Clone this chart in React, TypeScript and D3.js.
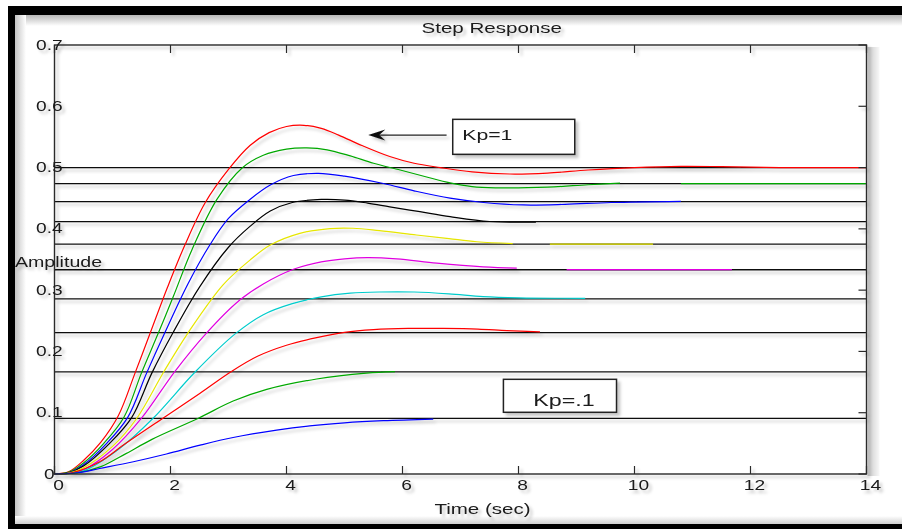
import React from "react";
import * as d3 from "d3";

// ---------- data ----------
const kpValues = [1, 0.9, 0.8, 0.7, 0.6, 0.5, 0.4, 0.3, 0.2, 0.1];
const seriesColors = ["#ff0000", "#00a800", "#0000ff", "#000000", "#e6e600", "#e000e0", "#00cccc", "#ff0000", "#00a800", "#0000ff"];
const steadyLevels = [0.5, 0.4737, 0.4444, 0.4118, 0.375, 0.3333, 0.2857, 0.2308, 0.1667, 0.0909];

const respKp10: number[][] = [[0,0],[0.25,0.004],[0.5,0.022],[0.8,0.052],[1.1,0.095],[1.39,0.165],[1.65,0.23],[1.95,0.305],[2.25,0.374],[2.6,0.443],[3.0,0.497],[3.37,0.536],[3.7,0.557],[4.0,0.567],[4.3,0.569],[4.6,0.564],[4.9,0.553],[5.3,0.536],[5.78,0.518],[6.2,0.507],[6.65,0.5],[7.2,0.493],[7.85,0.4895],[8.5,0.491],[9.2,0.496],[10,0.5],[10.8,0.502],[11.5,0.5015],[12.5,0.5],[14,0.5]];
const respKp09: number[][] = [[0,0],[0.25,0.003],[0.5,0.018],[0.85,0.05],[1.2,0.093],[1.5,0.165],[1.79,0.23],[2.05,0.29],[2.37,0.366],[2.8,0.448],[3.23,0.499],[3.6,0.52],[4.0,0.53],[4.35,0.532],[4.7,0.529],[5.1,0.519],[5.5,0.507],[5.96,0.496],[6.4,0.485],[6.82,0.475],[7.2,0.469],[7.6,0.467],[8.5,0.468],[9.2,0.472],[9.75,0.4745],[10.3,NaN],[10.8,0.4737],[14,0.4737]];
const respKp08: number[][] = [[0,0],[0.25,0.002],[0.5,0.015],[0.9,0.05],[1.26,0.092],[1.59,0.165],[1.9,0.23],[2.3,0.31],[2.68,0.374],[3.0,0.417],[3.37,0.448],[3.72,0.4715],[4.12,0.487],[4.55,0.4905],[5.0,0.486],[5.67,0.474],[6.2,0.462],[6.82,0.45],[7.4,0.443],[8.08,0.439],[8.8,0.44],[9.6,0.443],[10.8,0.445]];
const respKp07: number[][] = [[0,0],[0.25,0.002],[0.5,0.013],[0.95,0.05],[1.33,0.092],[1.68,0.165],[2.04,0.23],[2.5,0.305],[3.0,0.37],[3.37,0.404],[3.72,0.429],[4.1,0.443],[4.6,0.448],[5.0,0.447],[5.4,0.442],[5.78,0.436],[6.3,0.428],[6.82,0.42],[7.5,0.412],[8.3,0.411]];
const respKp06: number[][] = [[0,0],[0.25,0.0015],[0.5,0.01],[1.0,0.045],[1.42,0.091],[1.88,0.166],[2.3,0.23],[2.91,0.309],[3.37,0.349],[3.72,0.3736],[4.23,0.3927],[4.75,0.4005],[5.15,0.401],[5.6,0.397],[6.24,0.39],[6.8,0.384],[7.28,0.379],[7.9,0.376],[8.2,NaN],[8.54,0.375],[10.32,0.375]];
const respKp05: number[][] = [[0,0],[0.25,0.001],[0.5,0.007],[1.0,0.04],[1.5,0.091],[2.08,0.168],[2.62,0.23],[3.17,0.282],[3.6,0.31],[4.12,0.334],[4.6,0.346],[5.0,0.351],[5.4,0.353],[5.9,0.351],[6.59,0.344],[7.39,0.338],[7.97,0.336],[8.4,NaN],[8.83,0.3335],[11.68,0.3335]];
const respKp04: number[][] = [[0,0],[0.25,0.001],[0.5,0.005],[1.1,0.04],[1.7,0.091],[2.42,0.166],[3.12,0.229],[3.6,0.26],[4.1,0.278],[4.6,0.289],[5.1,0.295],[5.6,0.297],[6.2,0.297],[6.8,0.294],[7.39,0.2895],[8.0,0.2875],[9.15,0.2866]];
const respKp03: number[][] = [[0,0],[0.3,0.002],[0.78,0.02],[1.2,0.048],[1.87,0.091],[2.51,0.1317],[3.03,0.166],[3.5,0.192],[4.0,0.21],[4.5,0.222],[5.0,0.231],[5.5,0.2355],[6.1,0.2375],[6.7,0.2375],[7.3,0.2365],[7.8,0.234],[8.37,0.232]];
const respKp02: number[][] = [[0,0],[0.4,0.002],[0.8,0.012],[1.24,0.0337],[1.68,0.0565],[2.48,0.091],[3.08,0.119],[3.66,0.138],[4.52,0.155],[5.38,0.1645],[5.87,0.167]];
const respKp01: number[][] = [[0,0],[0.4,0.002],[0.78,0.009],[1.36,0.02],[1.93,0.0326],[2.51,0.047],[3.08,0.0595],[3.83,0.0715],[4.4,0.0785],[5.0,0.0835],[5.67,0.087],[6.53,0.0897]];
const responses = [respKp10, respKp09, respKp08, respKp07, respKp06, respKp05, respKp04, respKp03, respKp02, respKp01];

const xTickValues = [0, 2, 4, 6, 8, 10, 12, 14];
const xTickLabels = ["0", "2", "4", "6", "8", "10", "12", "14"];
const yTickValues = [0, 0.1, 0.2, 0.3, 0.4, 0.5, 0.6, 0.7];
const yTickLabels = ["0", "0.1", "0.2", "0.3", "0.4", "0.5", "0.6", "0.7"];

const titleText = "Step Response";
const xLabelText = "Time (sec)";
const yLabelText = "Amplitude";
// annotation boxes in data units: [t0, t1, v0, v1], text anchor [t, v]
const boxKp1 = [6.866, 8.97, 0.5216, 0.5787];
const textKp1 = [7.03, 0.545];
const labelKp1 = "Kp=1";
const arrowKp1 = [6.76, 5.41, 0.553];
const boxKp01 = [7.74, 9.69, 0.1007, 0.1545];
const textKp01 = [8.255, 0.111];
const labelKp01 = "Kp=.1";

// ---------- layout ----------
const W = 902, H = 529;
const x = d3.scaleLinear().domain([0, 14]).range([54.5, 866.5]);
const y = d3.scaleLinear().domain([0, 0.7]).range([474, 45]);
const SX = 1.37;
const FONT = "'Liberation Sans', Arial, sans-serif";

const T = ({ px, py, anchor = "start", size = 14, children }: any) => (
  <text transform={`translate(${px},${py}) scale(${SX},1)`} textAnchor={anchor} fontSize={size} fontFamily={FONT} fill="#1a1a1a">
    {children}
  </text>
);

export default function App() {
  const line = d3
    .line<number[]>()
    .defined((d) => !isNaN(d[1]))
    .x((d) => x(d[0]))
    .y((d) => y(d[1]))
    .curve(d3.curveCatmullRom.alpha(0.5));

  const [x0, x1] = x.range();
  const [yb, yt] = y.range();
  const tick = 8;

  return (
    <svg width={W} height={H} style={{ position: "absolute", left: 0, top: 0, display: "block", background: "#fff" }}>
      <defs>
        <filter id="sh" x="-5%" y="-5%" width="110%" height="110%">
          <feDropShadow dx="3" dy="3" stdDeviation="1.8" floodColor="#000" floodOpacity="0.22" />
        </filter>
        <linearGradient id="gTop" x1="0" y1="0" x2="0" y2="1">
          <stop offset="0" stopColor="#b8b8b8" />
          <stop offset="1" stopColor="#ffffff" />
        </linearGradient>
        <linearGradient id="gLeft" x1="0" y1="0" x2="1" y2="0">
          <stop offset="0" stopColor="#c4c4c4" />
          <stop offset="1" stopColor="#ffffff" />
        </linearGradient>
        <linearGradient id="gBot" x1="0" y1="1" x2="0" y2="0">
          <stop offset="0" stopColor="#d0d0d0" />
          <stop offset="1" stopColor="#ffffff" />
        </linearGradient>
        <linearGradient id="gRight" x1="0" y1="0" x2="1" y2="0">
          <stop offset="0" stopColor="#c8c8c8" />
          <stop offset="1" stopColor="#f8f8f8" />
        </linearGradient>
      </defs>
      <rect x={0} y={0} width={W} height={H} fill="#fff" />
      {/* frame shading */}
      <rect x={15} y={15} width={W - 15} height={11} fill="url(#gTop)" />
      <rect x={15} y={15} width={11} height={H - 20} fill="url(#gLeft)" />
      <rect x={15} y={516} width={W - 15} height={8} fill="url(#gBot)" />
      <rect x={x1 + 1} y={yt + 2} width={12} height={yb - yt} fill="url(#gRight)" />
      {/* black frame */}
      <rect x={8} y={6} width={W - 8} height={9} fill="#000" />
      <rect x={8} y={6} width={7} height={H - 6} fill="#000" />
      <rect x={8} y={524} width={W - 8} height={5} fill="#000" />

      <g filter="url(#sh)">
        {/* steady-state lines */}
        {steadyLevels.map((v, i) => (
          <line key={"h" + i} x1={x0} x2={x1} y1={y(v)} y2={y(v)} stroke="#111" strokeWidth={1.3} />
        ))}
        {/* responses */}
        {responses.map((r, i) => (
          <path key={"r" + i} d={line(r) || ""} fill="none" stroke={seriesColors[i]} strokeWidth={1.2} />
        ))}
        {/* axes box */}
        <rect x={x0} y={yt} width={x1 - x0} height={yb - yt} fill="none" stroke="#2a2a2a" strokeWidth={1.4} />
        {xTickValues.map((t, i) => (
          <g key={"xt" + i}>
            <line x1={x(t)} x2={x(t)} y1={yb} y2={yb - tick} stroke="#2a2a2a" strokeWidth={1.2} />
            <line x1={x(t)} x2={x(t)} y1={yt} y2={yt + tick} stroke="#2a2a2a" strokeWidth={1.2} />
          </g>
        ))}
        {yTickValues.map((v, i) => (
          <line key={"yt" + i} x1={x1} x2={x1 - tick} y1={y(v)} y2={y(v)} stroke="#2a2a2a" strokeWidth={1.2} />
        ))}
        {/* annotations */}
        <rect x={x(boxKp1[0])} y={y(boxKp1[3])} width={x(boxKp1[1]) - x(boxKp1[0])} height={y(boxKp1[2]) - y(boxKp1[3])} fill="#fff" stroke="#222" strokeWidth={1.5} />
        <line x1={x(arrowKp1[0])} x2={x(arrowKp1[1]) + 10} y1={y(arrowKp1[2])} y2={y(arrowKp1[2])} stroke="#222" strokeWidth={1.2} />
        <path
          d={`M${x(arrowKp1[1])},${y(arrowKp1[2])} L${x(arrowKp1[1]) + 17},${y(arrowKp1[2]) - 5.5} L${x(arrowKp1[1]) + 11},${y(arrowKp1[2])} L${x(arrowKp1[1]) + 17},${y(arrowKp1[2]) + 5.5} Z`}
          fill="#111"
        />
        <rect x={x(boxKp01[0])} y={y(boxKp01[3])} width={x(boxKp01[1]) - x(boxKp01[0])} height={y(boxKp01[2]) - y(boxKp01[3])} fill="#fff" stroke="#222" strokeWidth={1.5} />
        <T px={x(textKp1[0])} py={y(textKp1[1])} size={15.5}>{labelKp1}</T>
        <T px={x(textKp01[0])} py={y(textKp01[1])} size={17}>{labelKp01}</T>

        {/* tick labels */}
        {xTickValues.map((t, i) => (
          <T key={"xl" + i} px={x(t) + 4} py={490} anchor="middle" size={14}>
            {xTickLabels[i]}
          </T>
        ))}
        {yTickValues.map((v, i) => (
          <T key={"yl" + i} px={i === 0 ? 44 : 36} py={y(v) + 4.5} size={14}>
            {yTickLabels[i]}
          </T>
        ))}
        <T px={491.7} py={33} anchor="middle" size={15}>{titleText}</T>
        <T px={482.5} py={513.5} anchor="middle" size={15}>{xLabelText}</T>
        <T px={15} py={266.5} size={14.3}>{yLabelText}</T>
      </g>
    </svg>
  );
}
